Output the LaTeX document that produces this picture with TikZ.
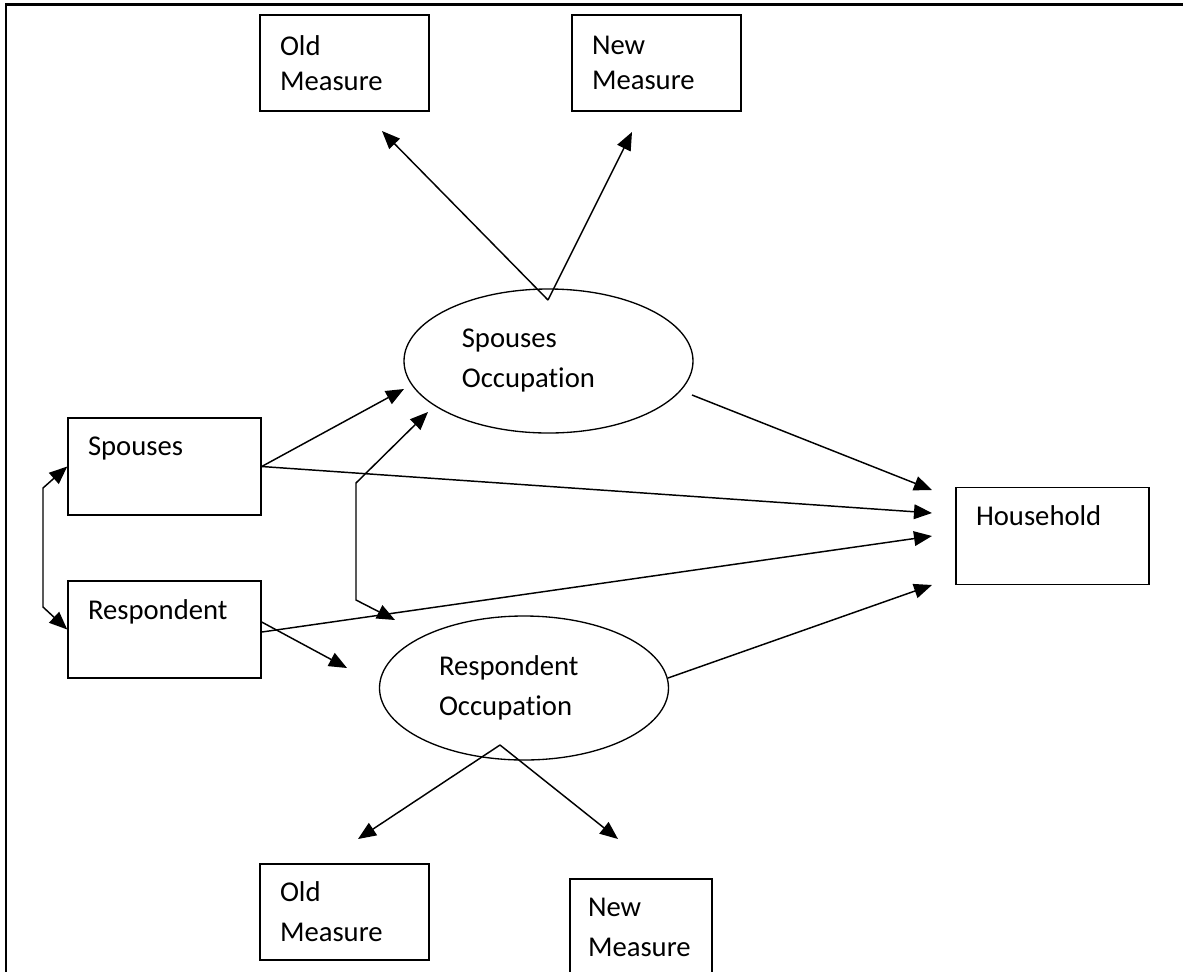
\documentclass[tikz,border=0pt]{standalone}
\usepackage{fontspec}
\setmainfont{Carlito}[Ligatures=NoCommon]
\usetikzlibrary{shapes.geometric,arrows.meta}

\tikzset{
  measbox/.style={draw, line width=1.1pt, minimum height=72pt, inner xsep=15pt, inner ysep=0pt,
    text width=96.75pt, align=left},
  varbox/.style={draw, line width=1.1pt, minimum height=72.75pt, inner xsep=15pt, inner ysep=0pt,
    text width=114.75pt, align=left},
  occ/.style={ellipse, draw, line width=1pt, minimum width=216.75pt, minimum height=108pt,
    inner sep=0pt, text width=130pt, align=left},
  arr/.style={-{Triangle[length=13.5pt,width=11pt]}, line width=1.1pt},
  dblarr/.style={{Triangle[length=13.5pt,width=11pt]}-{Triangle[length=13.5pt,width=11pt]}, line width=1.1pt}
}

\begin{document}
\begin{tikzpicture}[x=0.75pt, y=-0.75pt, font=\fontsize{21.5}{30}\selectfont]

\clip (0,0) rectangle (1183,972);

% Frame
\draw[line width=1.7pt] (6,972) -- (6,4.5) -- (1183,4.5);

% Measures
\node[measbox, font=\fontsize{21.5}{26.25}\selectfont] (oldtop) at (344.5,63) {Old\\Measure};
\node[measbox, font=\fontsize{21.5}{26.25}\selectfont] (newtop) at (656.5,63) {New\\Measure};
\node[measbox] (oldbot) at (344.5,912) {Old\\Measure};
\node[measbox, inner xsep=13.5pt, text width=79.5pt] (newbot) at (641,927) {New\\Measure};

% Observed variables
\node[varbox] (spouses) at (164.5,466.5) {Spouses\\\mbox{}};
\node[varbox] (respondent) at (164.5,629.5) {Respondent\\\mbox{}};
\node[varbox] (household) at (1052.5,536) {Household\\\mbox{}};

% Latent occupations
\node[occ] (spocc) at (548.5,361) {Spouses\\Occupation};
\node[occ, text width=127.5pt] (respocc) at (524,688) {Respondent\\Occupation};

% Connector points
\coordinate (sptop) at (548,300);
\coordinate (oldtip1) at (382,131);
\coordinate (newtip1) at (632,132);
\coordinate (rsbot) at (500,745);
\coordinate (oldtip2) at (358,839);
\coordinate (newtip2) at (618,839);
\coordinate (lk1) at (43,488);
\coordinate (lk2) at (43,607);
\coordinate (ck1) at (356,483);
\coordinate (ck2) at (356,600);
\coordinate (cktop) at (428,412);
\coordinate (ckbot) at (395,620);
\coordinate (sptip) at (404,389);
\coordinate (rstip) at (347,668);
\coordinate (so1) at (692,395);
\coordinate (ro1) at (668,678);
\coordinate (hh1) at (932,490);
\coordinate (hh2) at (932,513);
\coordinate (hh3) at (932,536);
\coordinate (hh4) at (932,585);

% Measurement arrows
\draw[arr] (sptop) -- (oldtip1);
\draw[arr] (sptop) -- (newtip1);
\draw[arr] (rsbot) -- (oldtip2);
\draw[arr] (rsbot) -- (newtip2);

% Correlations
\draw[dblarr] (spouses.west) -- (lk1) -- (lk2) -- (respondent.west);
\draw[dblarr] (cktop) -- (ck1) -- (ck2) -- (ckbot);

% Paths
\draw[arr] (spouses.east) -- (sptip);
\draw[arr] (spouses.east) -- (hh2);
\draw[arr] ([yshift=5.6pt]respondent.east) -- (rstip);
\draw[arr] ([yshift=-1.9pt]respondent.east) -- (hh3);
\draw[arr] (so1) -- (hh1);
\draw[arr] (ro1) -- (hh4);

\end{tikzpicture}
\end{document}
